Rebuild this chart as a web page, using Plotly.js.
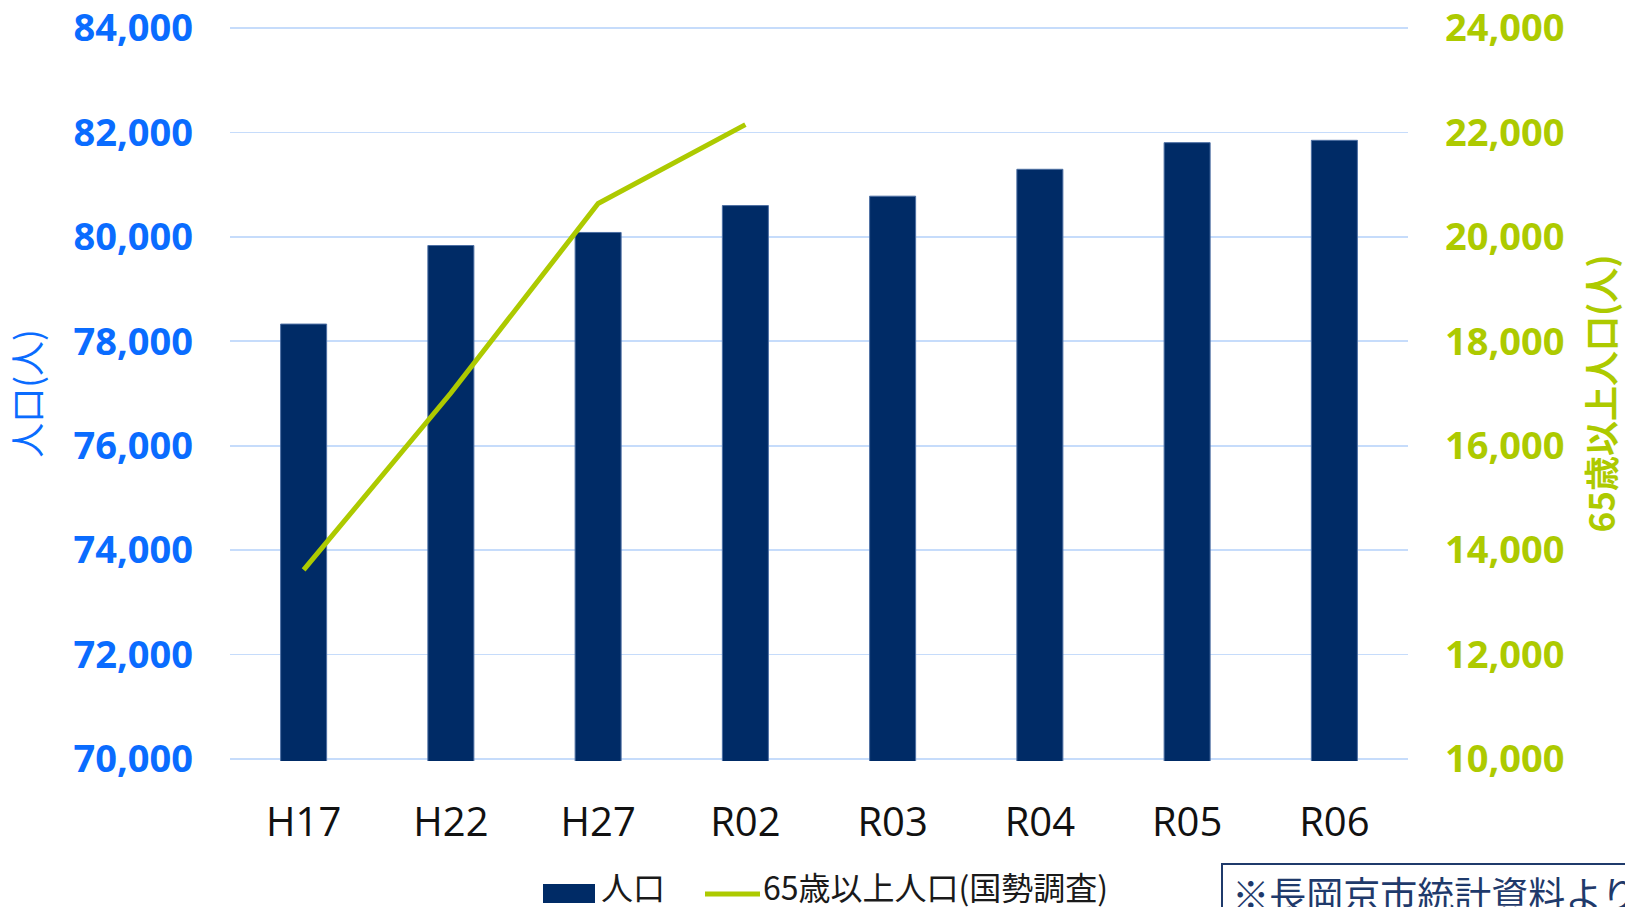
<!DOCTYPE html>
<html>
<head>
<meta charset="utf-8">
<script src="https://cdn.plot.ly/plotly-3.0.1.min.js"></script>
<style>
html,body{margin:0;padding:0;background:#fff;overflow:hidden;}
#chart{width:1625px;height:907px;}
</style>
</head>
<body>
<div id="chart"></div>
<script>
// ---- data ----
const categories = ['H17','H22','H27','R02','R03','R04','R05','R06'];
const population = [78330, 79835, 80085, 80600, 80780, 81295, 81805, 81850];
const elderly = [13620, 17010, 20640, 22150];
const seriesNames = ['人口', '65歳以上人口(国勢調査)'];
const leftTitle = '人口(人)';
const rightTitle = '65歳以上人口(人)';
const noteText = '※長岡京市統計資料より';
const leftTicks = [70000, 72000, 74000, 76000, 78000, 80000, 82000, 84000];
const rightTicks = [10000, 12000, 14000, 16000, 18000, 20000, 22000, 24000];

// ---- style ----
const NAVY = '#002b66';
const GREEN = '#adca00';
const BLUE = '#0a6cff';
const GRID = '#c6dcfb';
const JP = '"Noto Sans CJK JP", "Noto Sans", sans-serif';
const NUM = '"Open Sans", "Noto Sans", sans-serif';

// plot area in px (for paper conversions)
const W = 1625, H = 907;
const L = 230, R = 217, T = 26, B = 146;
const pw = W - L - R, ph = H - T - B;
const px = v => (v - L) / pw;
const py = v => (H - B - v) / ph;

const traces = [
  {
    type: 'bar',
    name: seriesNames[0],
    x: categories,
    y: population,
    marker: {color: NAVY, line: {color: '#4d6fa3', width: 1}},
    yaxis: 'y',
    showlegend: false,
    hoverinfo: 'x+y'
  },
  {
    type: 'scatter',
    mode: 'lines',
    name: seriesNames[1],
    x: categories.slice(0, elderly.length),
    y: elderly,
    line: {color: GREEN, width: 5},
    yaxis: 'y2',
    showlegend: false,
    hoverinfo: 'x+y'
  }
];

const layout = {
  width: W, height: H,
  margin: {l: L, r: R, t: T, b: B, pad: 0},
  paper_bgcolor: '#ffffff',
  plot_bgcolor: '#ffffff',
  bargap: 0.6876,
  showlegend: false,
  xaxis: {
    type: 'category',
    showgrid: false,
    zeroline: false,
    showline: false,
    ticks: '',
    ticklabelstandoff: 34,
    tickfont: {family: NUM, size: 40, color: '#111111'}
  },
  yaxis: {
    range: [69960, 84040],
    tickvals: leftTicks,
    tickformat: ',d',
    showgrid: true,
    gridcolor: GRID,
    gridwidth: 1.6,
    zeroline: false,
    showline: false,
    ticks: '',
    ticklabelstandoff: 36,
    tickfont: {family: NUM, size: 38, color: BLUE, weight: 'bold'},
    title: {text: leftTitle, font: {family: JP, size: 35, color: BLUE}, standoff: 26}
  },
  yaxis2: {
    overlaying: 'y',
    side: 'right',
    range: [9960, 24040],
    tickvals: rightTicks,
    tickformat: ',d',
    showgrid: false,
    zeroline: false,
    showline: false,
    ticks: '',
    ticklabelstandoff: 36,
    tickfont: {family: NUM, size: 38, color: GREEN, weight: 'bold'},
    title: {text: rightTitle, font: {family: JP, size: 35, color: GREEN, weight: 'bold'}, standoff: 28}
  },
  shapes: [
    {type: 'rect', xref: 'paper', yref: 'paper',
     x0: px(543), x1: px(595), y0: py(903), y1: py(884),
     fillcolor: NAVY, line: {width: 0}},
    {type: 'line', xref: 'paper', yref: 'paper',
     x0: px(705), x1: px(760), y0: py(894), y1: py(894),
     line: {color: GREEN, width: 5}}
  ],
  annotations: [
    {xref: 'paper', yref: 'paper', x: px(599), y: py(886), xanchor: 'left', yanchor: 'middle',
     text: seriesNames[0], showarrow: false, font: {family: JP, size: 32, color: '#1a1a1a'}},
    {xref: 'paper', yref: 'paper', x: px(761), y: py(886), xanchor: 'left', yanchor: 'middle',
     text: seriesNames[1], showarrow: false, font: {family: JP, size: 32, color: '#1a1a1a'}},
    {xref: 'paper', yref: 'paper', x: px(1221), y: py(863), xanchor: 'left', yanchor: 'top',
     text: '&nbsp;' + noteText + '&nbsp;', showarrow: false,
     font: {family: JP, size: 37, color: '#1f3a6b'},
     bordercolor: '#1f3a6b', borderwidth: 2, borderpad: 1, bgcolor: '#ffffff'}
  ]
};

Plotly.newPlot('chart', traces, layout, {displayModeBar: false, staticPlot: true});
</script>
</body>
</html>
